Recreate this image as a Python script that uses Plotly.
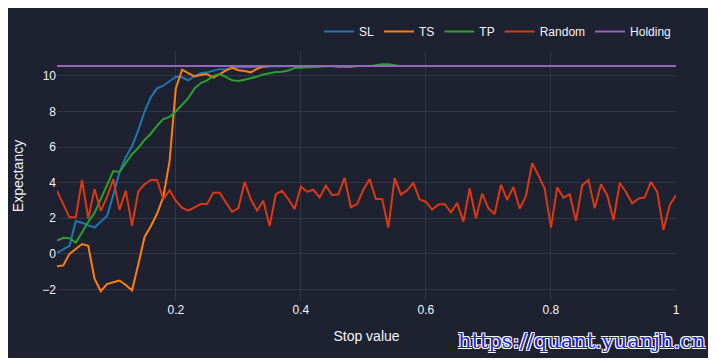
import plotly.graph_objects as go

# Stop values (x axis): 0.01 .. 1.00
stop_values = [round(i * 0.01, 2) for i in range(1, 101)]

sl = [0.05, 0.25, 0.45, 1.85, 1.75, 1.6, 1.48, 1.8, 2.13, 3.3,
      4.6, 5.45, 6.05, 6.95, 8.0, 8.8, 9.3, 9.45, 9.7, 9.95,
      9.92, 9.75, 10.0, 10.15, 10.2, 10.3, 10.38, 10.36, 10.45, 10.48,
      10.47, 10.48, 10.52, 10.53, 10.55, 10.55, 10.55, 10.55, 10.55, 10.55,
      10.55, 10.55, 10.55, 10.55, 10.55, 10.55, 10.55, 10.55, 10.55, 10.55,
      10.55, 10.55, 10.55, 10.55, 10.55, 10.55, 10.55, 10.55, 10.55, 10.55,
      10.55, 10.55, 10.55, 10.55, 10.55, 10.55, 10.55, 10.55, 10.55, 10.55,
      10.55, 10.55, 10.55, 10.55, 10.55, 10.55, 10.55, 10.55, 10.55, 10.55,
      10.55, 10.55, 10.55, 10.55, 10.55, 10.55, 10.55, 10.55, 10.55, 10.55,
      10.55, 10.55, 10.55, 10.55, 10.55, 10.55, 10.55, 10.55, 10.55, 10.55]

ts = [-0.7, -0.65, 0.0, 0.25, 0.55, 0.45, -1.4, -2.1, -1.7, -1.6,
      -1.5, -1.75, -2.05, -0.6, 0.95, 1.55, 2.25, 3.2, 5.2, 9.3,
      10.35, 10.15, 9.97, 10.05, 10.1, 9.9, 10.1, 10.3, 10.45, 10.32,
      10.28, 10.2, 10.4, 10.52, 10.55, 10.55, 10.55, 10.55, 10.55, 10.55,
      10.55, 10.55, 10.55, 10.55, 10.55, 10.55, 10.55, 10.55, 10.55, 10.55,
      10.55, 10.55, 10.55, 10.55, 10.55, 10.55, 10.55, 10.55, 10.55, 10.55,
      10.55, 10.55, 10.55, 10.55, 10.55, 10.55, 10.55, 10.55, 10.55, 10.55,
      10.55, 10.55, 10.55, 10.55, 10.55, 10.55, 10.55, 10.55, 10.55, 10.55,
      10.55, 10.55, 10.55, 10.55, 10.55, 10.55, 10.55, 10.55, 10.55, 10.55,
      10.55, 10.55, 10.55, 10.55, 10.55, 10.55, 10.55, 10.55, 10.55, 10.55]

tp = [0.75, 0.9, 0.88, 0.63, 1.2, 1.8, 2.3, 3.1, 3.9, 4.65,
      4.6, 5.1, 5.6, 5.95, 6.4, 6.75, 7.2, 7.57, 7.7, 8.0,
      8.4, 8.75, 9.3, 9.6, 9.75, 10.0, 10.1, 9.95, 9.75, 9.72,
      9.78, 9.85, 9.96, 10.08, 10.15, 10.22, 10.24, 10.3, 10.45, 10.47,
      10.47, 10.5, 10.53, 10.55, 10.55, 10.5, 10.48, 10.5, 10.55, 10.55,
      10.55, 10.6, 10.65, 10.65, 10.6, 10.55, 10.55, 10.55, 10.55, 10.55,
      10.55, 10.55, 10.55, 10.55, 10.55, 10.55, 10.55, 10.55, 10.55, 10.55,
      10.55, 10.55, 10.55, 10.55, 10.55, 10.55, 10.55, 10.55, 10.55, 10.55,
      10.55, 10.55, 10.55, 10.55, 10.55, 10.55, 10.55, 10.55, 10.55, 10.55,
      10.55, 10.55, 10.55, 10.55, 10.55, 10.55, 10.55, 10.55, 10.55, 10.55]

random_exp = [3.54, 2.8, 2.05, 2.05, 4.16, 2.0, 3.65, 2.42, 3.2, 4.2,
              2.47, 3.55, 1.57, 3.5, 3.91, 4.15, 4.15, 3.07, 3.57, 2.98,
              2.6, 2.43, 2.6, 2.8, 2.8, 3.44, 3.44, 2.9, 2.37, 2.56,
              4.04, 3.07, 2.43, 2.98, 1.56, 3.35, 3.54, 3.07, 2.52, 3.78,
              3.48, 3.6, 3.17, 3.83, 3.3, 3.35, 4.28, 2.62, 2.8, 3.6,
              4.2, 3.08, 3.08, 1.47, 4.25, 3.33, 3.57, 3.98, 3.05, 2.93,
              2.49, 2.78, 2.8, 2.33, 2.85, 1.81, 3.67, 2.0, 3.39, 2.56,
              2.24, 3.89, 3.04, 3.76, 2.53, 3.25, 5.09, 4.41, 3.67, 1.47,
              3.74, 3.16, 3.35, 1.85, 3.85, 4.15, 2.56, 3.91, 3.3, 1.9,
              3.98, 3.48, 2.83, 3.11, 3.17, 4.04, 3.48, 1.35, 2.74, 3.3]

holding_value = 10.55

series_names = ["SL", "TS", "TP", "Random", "Holding"]
series_colors = ["#1f77b4", "#ff7f0e", "#2ca02c", "#dc3912", "#9467bd"]
series_values = [sl, ts, tp, random_exp, [holding_value] * len(stop_values)]

FONT = "Liberation Sans, Arial, sans-serif"
BG = "#1e2130"
GRID = "#323748"

fig = go.Figure()
for name, color, vals in zip(series_names, series_colors, series_values):
    fig.add_trace(go.Scatter(x=stop_values, y=vals, mode="lines", name=name,
                             line=dict(color=color, width=2)))

fig.update_layout(
    width=700, height=350,
    paper_bgcolor=BG, plot_bgcolor=BG,
    font=dict(family=FONT, size=12, color="#f2f5fa"),
    margin=dict(l=49, r=32, t=43, b=57, autoexpand=False),
    showlegend=True,
    legend=dict(orientation="h", x=1, xanchor="right", y=1.02, yanchor="bottom",
                bgcolor="rgba(0,0,0,0)", font=dict(size=12)),
    xaxis=dict(title=dict(text="Stop value", font=dict(size=14)),
               range=[0.01, 1.0], gridcolor=GRID, zeroline=False,
               showline=False, ticks="", tickfont=dict(size=12)),
    yaxis=dict(title=dict(text="Expectancy", font=dict(size=14)),
               range=[-2.65, 11.4], gridcolor=GRID, zerolinecolor=GRID,
               zerolinewidth=1, showline=False, ticks="", tickfont=dict(size=12)),
    annotations=[dict(text="https://quant.yuanjh.cn", xref="paper", yref="paper",
                      x=1.05, y=-0.16, xanchor="right", yanchor="middle",
                      showarrow=False,
                      font=dict(family="DejaVu Serif", size=21, color="#2323e6",
                                shadow="-1px -1px 0 #ffffff, 1px -1px 0 #ffffff, -1px 1px 0 #ffffff, 1px 1px 0 #ffffff"))],
)

fig.write_html("out.html")
